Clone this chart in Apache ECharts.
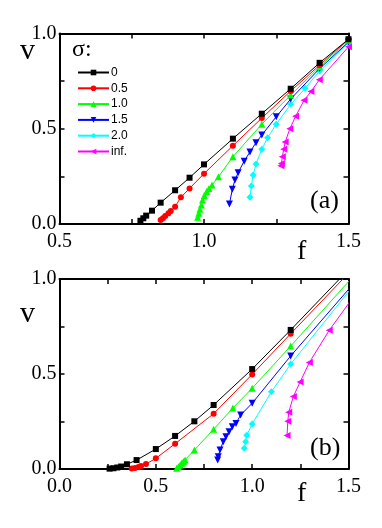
<!DOCTYPE html>
<html><head><meta charset="utf-8">
<script src="https://cdn.jsdelivr.net/npm/echarts@6/dist/echarts.min.js"></script>
<style>html,body{margin:0;padding:0;background:#fff}#c{width:382px;height:528px}</style>
</head><body><div id="c"></div>
<script>
// legend labels
const sigmaLabels = ['0', '0.5', '1.0', '1.5', '2.0', 'inf.'];
// Panel (a)
const fA0 = [0.78,0.79,0.80,0.82,0.85,0.90,0.95,1.00,1.10,1.20,1.30,1.40,1.50];
const vA0 = [0.017,0.03,0.044,0.07,0.112,0.177,0.243,0.313,0.448,0.579,0.710,0.846,0.97];
const fA1 = [0.85,0.858,0.866,0.877,0.885,0.90,0.92,0.95,1.00,1.10,1.20,1.30,1.40,1.50];
const vA1 = [0.021,0.030,0.042,0.056,0.068,0.091,0.14,0.187,0.264,0.411,0.556,0.698,0.834,0.97];
const fA2 = [0.978,0.982,0.986,0.991,0.995,1.001,1.009,1.017,1.028,1.05,1.10,1.20,1.30,1.40,1.50];
const vA2 = [0.035,0.056,0.077,0.10,0.126,0.149,0.17,0.187,0.205,0.248,0.353,0.524,0.677,0.825,0.965];
const fA3 = [1.088,1.098,1.107,1.118,1.139,1.159,1.18,1.20,1.25,1.30,1.40,1.50];
const vA3 = [0.105,0.182,0.231,0.269,0.33,0.378,0.427,0.467,0.563,0.656,0.816,0.955];
const fA4 = [1.159,1.164,1.170,1.180,1.20,1.22,1.25,1.30,1.35,1.40,1.50];
const vA4 = [0.14,0.199,0.257,0.315,0.392,0.453,0.524,0.628,0.712,0.803,0.953];
const fA5 = [1.266,1.268,1.271,1.276,1.281,1.297,1.317,1.346,1.37,1.399,1.50];
const vA5 = [0.306,0.318,0.353,0.392,0.43,0.50,0.565,0.649,0.695,0.757,0.93];
// Panel (b) (last point of each curve lies beyond the plotted frame)
const fB0 = [0.26,0.28,0.30,0.32,0.35,0.40,0.50,0.60,0.70,0.80,1.00,1.20,1.60];
const vB0 = [0.002,0.004,0.008,0.013,0.025,0.047,0.105,0.174,0.251,0.337,0.526,0.732,1.155];
const fB1 = [0.375,0.392,0.41,0.423,0.449,0.50,0.60,0.80,1.00,1.20,1.60];
const vB1 = [0.002,0.005,0.010,0.016,0.026,0.056,0.133,0.291,0.498,0.712,1.137];
const fB2 = [0.608,0.617,0.626,0.634,0.643,0.652,0.70,0.80,0.90,1.00,1.20,1.60];
const vB2 = [0.004,0.012,0.021,0.030,0.039,0.047,0.10,0.209,0.321,0.425,0.647,1.099];
const fB3 = [0.821,0.824,0.833,0.850,0.864,0.880,0.897,0.916,0.94,1.00,1.20,1.60];
const vB3 = [0.047,0.065,0.10,0.144,0.17,0.196,0.223,0.24,0.284,0.346,0.595,1.062];
const fB4 = [0.959,0.966,0.972,1.00,1.10,1.20,1.60];
const vB4 = [0.109,0.144,0.177,0.237,0.407,0.552,1.060];
const fB5 = [1.181,1.185,1.19,1.214,1.249,1.297,1.40,1.60];
const vB5 = [0.176,0.251,0.299,0.382,0.458,0.561,0.730,1.010];
// axis ticks
const ticksA = {min: 0.5, max: 1.5, interval: 0.25};
const ticksB = {min: 0.0, max: 1.5, interval: 0.25};
const ticksV = {min: 0.0, max: 1.0, interval: 0.25};

const colors = ['#000000','#ff0000','#00ff00','#0000ff','#00ffff','#ff00ff'];
const symbols = ['rect','circle','triangle','triangle','diamond','triangle'];
const rotates = [0,0,0,180,0,90];
const sizes = [6,6,7,7,7,7];

const zip = (a,b) => a.map((x,i)=>[x,b[i]]);
const panelA = [[fA0,vA0],[fA1,vA1],[fA2,vA2],[fA3,vA3],[fA4,vA4],[fA5,vA5]];
const panelB = [[fB0,vB0],[fB1,vB1],[fB2,vB2],[fB3,vB3],[fB4,vB4],[fB5,vB5]];

const serif = 'Liberation Serif';
const fmt = v => (Math.abs(v*2 - Math.round(v*2)) < 1e-9) ? v.toFixed(1) : '';

function xAx(gi, t, pos, show) {
  return {type:'value', gridIndex:gi, position:pos, min:t.min, max:t.max, interval:t.interval,
    axisLine:{show:true, onZero:false, lineStyle:{color:'#000', width:2}},
    axisTick:{show:true, inside:true, length:5, lineStyle:{color:'#000', width:1.5}},
    axisLabel:{show:show, formatter:fmt, fontFamily:serif, fontSize:20, color:'#000', margin:8},
    splitLine:{show:false}};
}
function yAx(gi, pos, show) {
  return {type:'value', gridIndex:gi, position:pos, min:ticksV.min, max:ticksV.max, interval:ticksV.interval,
    axisLine:{show:true, onZero:false, lineStyle:{color:'#000', width:2}},
    axisTick:{show:true, inside:true, length:5, lineStyle:{color:'#000', width:1.5}},
    axisLabel:{show:show, formatter:fmt, fontFamily:serif, fontSize:20, color:'#000', margin:3},
    splitLine:{show:false}};
}

const series = [];
panelA.forEach((p,i)=>{
  series.push({name:sigmaLabels[i], type:'line', xAxisIndex:0, yAxisIndex:0, data:zip(p[0],p[1]),
    symbol:symbols[i], symbolRotate:rotates[i], symbolSize:sizes[i], showAllSymbol:true, clip:true,
    lineStyle:{color:colors[i], width:1}, itemStyle:{color:colors[i]}, animation:false, z:10-i});
});
panelB.forEach((p,i)=>{
  series.push({name:'b'+i, type:'line', xAxisIndex:2, yAxisIndex:2, data:zip(p[0],p[1]),
    symbol:symbols[i], symbolRotate:rotates[i], symbolSize:sizes[i], showAllSymbol:true, clip:true,
    lineStyle:{color:colors[i], width:1}, itemStyle:{color:colors[i]}, animation:false, z:10-i});
});

const chart = echarts.init(document.getElementById('c'), null, {renderer:'canvas'});
chart.setOption({
  backgroundColor:'#fff',
  animation:false,
  grid:[
    {left:59.5, top:33.5, width:289, height:190.5},
    {left:59.5, top:279, width:289, height:190}
  ],
  xAxis:[xAx(0,ticksA,'bottom',true), xAx(0,ticksA,'top',false), xAx(1,ticksB,'bottom',true), xAx(1,ticksB,'top',false)],
  yAxis:[yAx(0,'left',true), yAx(0,'right',false), yAx(1,'left',true), yAx(1,'right',false)],
  legend:{data:sigmaLabels, orient:'vertical', left:77, top:66.5, itemWidth:31, itemHeight:7, itemGap:3.8,
    textStyle:{fontFamily:'Liberation Sans', fontSize:12, color:'#000', lineHeight:12, padding:[0,0,0,-3]}, padding:0, selectedMode:false},
  graphic:[
    {type:'text', left:72, top:38, style:{text:'σ:', font:'24px "Liberation Serif"', fill:'#000'}},
    {type:'text', left:20, top:36, style:{text:'v', font:'30px "Liberation Serif"', fill:'#000'}},
    {type:'text', left:297, top:238, style:{text:'f', font:'28px "Liberation Serif"', fill:'#000'}},
    {type:'text', left:310, top:188, style:{text:'(a)', font:'26px "Liberation Serif"', fill:'#000'}},
    {type:'text', left:20, top:299, style:{text:'v', font:'30px "Liberation Serif"', fill:'#000'}},
    {type:'text', left:297, top:480, style:{text:'f', font:'28px "Liberation Serif"', fill:'#000'}},
    {type:'text', left:310, top:435, style:{text:'(b)', font:'26px "Liberation Serif"', fill:'#000'}}
  ],
  series:series
});
</script></body></html>
